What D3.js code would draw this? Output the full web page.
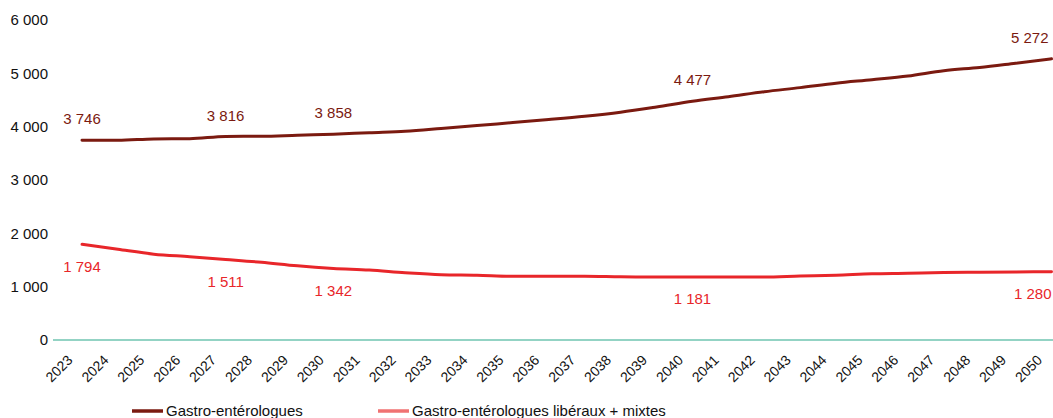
<!DOCTYPE html>
<html>
<head>
<meta charset="utf-8">
<script src="https://cdn.jsdelivr.net/npm/d3@7"></script>
<style>
  html, body { margin: 0; padding: 0; background: #fff; }
  svg { display: block; font-family: "Liberation Sans", Arial, sans-serif; }
</style>
</head>
<body>
<svg id="chart" width="1053" height="418"></svg>
<script>
const years = ["2023","2024","2025","2026","2027","2028","2029","2030","2031","2032","2033","2034","2035","2036","2037","2038","2039","2040","2041","2042","2043","2044","2045","2046","2047","2048","2049","2050"];
const gastro = [3746,3745,3770,3775,3816,3820,3840,3858,3888,3914,3965,4020,4077,4134,4196,4272,4370,4477,4563,4655,4732,4815,4880,4950,5050,5110,5190,5272];
const liberaux = [1794,1700,1610,1563,1511,1457,1390,1342,1312,1262,1225,1215,1195,1195,1195,1185,1181,1181,1181,1180,1200,1215,1240,1250,1265,1270,1275,1280];
const labeledYears = ["2023","2027","2030","2040","2050"];
const yTicks = [0,1000,2000,3000,4000,5000,6000];
const seriesNames = ["Gastro-entérologues", "Gastro-entérologues libéraux + mixtes"];

const colDark = "#7b1a10";
const colRed = "#e8262a";
const colRedLegend = "#f07272";
const colAxis = "#6fc5b0";

const fr = d3.formatLocale({decimal: ",", thousands: "\u00a0", grouping: [3], currency: ["", "€"]});
const fmt = fr.format(",d");

const svg = d3.select("#chart");
const x = d3.scalePoint().domain(years).range([82, 1051.5]);
const y = d3.scaleLinear().domain([0, 6000]).range([340, 20]);

// Y axis labels
const yAxis = d3.axisLeft(y).tickValues(yTicks).tickFormat(fmt).tickSize(0).tickPadding(0);
const gy = svg.append("g").attr("transform", "translate(48,0)").call(yAxis);
gy.select(".domain").remove();
gy.selectAll("text").attr("font-size", 15).attr("fill", "#111").attr("font-family", "Liberation Sans, Arial, sans-serif");

// baseline
svg.append("line").attr("x1", 53).attr("x2", 1053).attr("y1", y(0)).attr("y2", y(0))
  .attr("stroke", colAxis).attr("stroke-width", 1.5);

// X axis labels
const xAxis = d3.axisBottom(x).tickSize(0).tickPadding(0);
const gx = svg.append("g").attr("transform", "translate(0,340)").call(xAxis);
gx.select(".domain").remove();
gx.selectAll("text")
  .attr("font-size", 14).attr("fill", "#111").attr("font-family", "Liberation Sans, Arial, sans-serif")
  .attr("text-anchor", "end").attr("dy", 0).attr("y", 0)
  .attr("transform", "translate(-9,21) rotate(-45)");

// lines
const line = (vals) => d3.line().x((d, i) => x(years[i])).y(d => y(d)).curve(d3.curveMonotoneX)(vals);
svg.append("path").attr("d", line(gastro)).attr("fill", "none").attr("stroke", colDark)
  .attr("stroke-width", 3).attr("stroke-linecap", "round");
svg.append("path").attr("d", line(liberaux)).attr("fill", "none").attr("stroke", colRed)
  .attr("stroke-width", 3).attr("stroke-linecap", "round");

// data labels
const last = years[years.length - 1];
labeledYears.forEach(yr => {
  const i = years.indexOf(yr);
  const isLast = yr === last;
  svg.append("text")
    .attr("x", isLast ? x(yr) - 3 : x(yr))
    .attr("y", y(gastro[i]) - 21)
    .attr("dy", "0.35em")
    .attr("text-anchor", isLast ? "end" : "middle")
    .attr("font-size", 15).attr("fill", colDark)
    .text(fmt(gastro[i]));
  svg.append("text")
    .attr("x", isLast ? x(yr) : x(yr))
    .attr("y", y(liberaux[i]) + 22)
    .attr("dy", "0.35em")
    .attr("text-anchor", isLast ? "end" : "middle")
    .attr("font-size", 15).attr("fill", colRed)
    .text(fmt(liberaux[i]));
});

// legend
const legend = [
  {name: seriesNames[0], color: colDark, x0: 132},
  {name: seriesNames[1], color: colRedLegend, x0: 378}
];
legend.forEach(l => {
  svg.append("line").attr("x1", l.x0).attr("x2", l.x0 + 31).attr("y1", 411).attr("y2", 411)
    .attr("stroke", l.color).attr("stroke-width", 3.5);
  svg.append("text").attr("x", l.x0 + 34).attr("y", 416).attr("font-size", 15).attr("fill", "#111").text(l.name);
});
</script>
</body>
</html>
